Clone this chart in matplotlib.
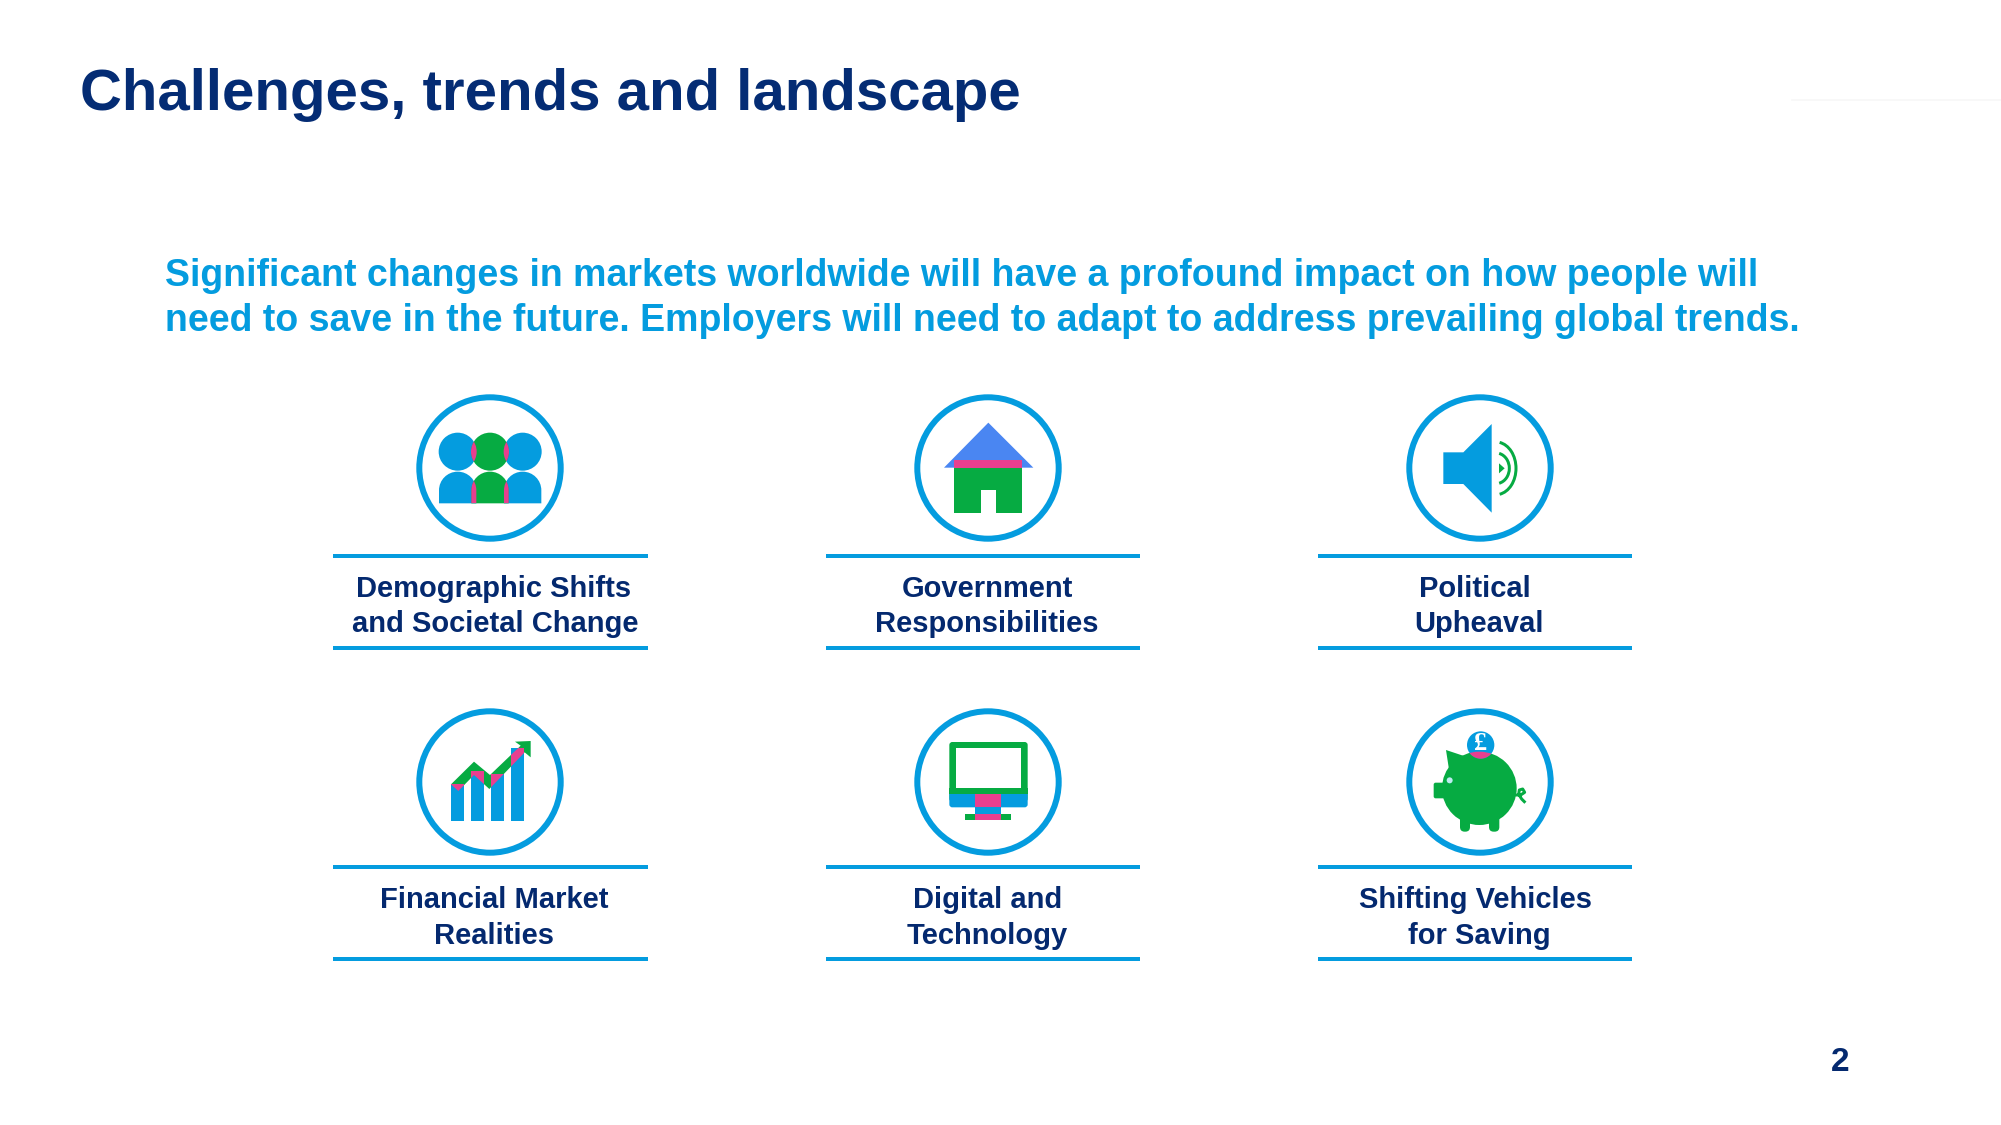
import matplotlib
matplotlib.use("Agg")
import matplotlib.pyplot as plt
from matplotlib.patches import Circle, Polygon, Rectangle, Ellipse, FancyBboxPatch, PathPatch, Arc
from matplotlib.path import Path

NAVY = "#04296F"
TITLE_NAVY = "#042C74"
BLUE = "#049CDF"
GREEN = "#06AB42"
PINK = "#E83F8F"
ROOF = "#4A86F2"

title = "Challenges, trends and landscape"
subtitle = ["Significant changes in markets worldwide will have a profound impact on how people will",
            "need to save in the future. Employers will need to adapt to address prevailing global trends."]
labels = [["Demographic Shifts", "and Societal Change"], ["Government", "Responsibilities"], ["Political", "Upheaval"],
          ["Financial Market", "Realities"], ["Digital and", "Technology"], ["Shifting Vehicles", "for Saving"]]
label_x = [[494, 495], [987, 986.5], [1475, 1479], [494.5, 494.5], [987.5, 987.5], [1475.5, 1479.5]]
label_y = [[597, 632], [597, 632], [597, 632], [908, 943.5], [908, 943.5], [908, 943.5]]
rule_x = [(333, 647.5), (825.5, 1140), (1318, 1632), (333, 647.5), (825.5, 1140), (1318, 1632)]
rule_y = [(556, 648), (556, 648), (556, 648), (867.3, 959), (867.3, 959), (867.3, 959)]
centers = [(490, 468), (988, 468), (1480, 468), (490, 782), (988, 782), (1480, 782)]
page = "2"

fig = plt.figure(figsize=(20.01, 11.25), dpi=100, facecolor="white")
ax = fig.add_axes([0, 0, 1, 1])
ax.set_xlim(0, 2001)
ax.set_ylim(1125, 0)
ax.axis("off")
PX = 0.72
FONT = "Liberation Sans"

ax.text(79.5, 109.5, title, fontsize=41.87, fontweight="bold", color=TITLE_NAVY, family=FONT, va="baseline")
ax.text(165, 286, subtitle[0], fontsize=27, fontweight="bold", color=BLUE, family=FONT, va="baseline")
ax.text(165, 331, subtitle[1], fontsize=27, fontweight="bold", color=BLUE, family=FONT, va="baseline")
ax.text(1840.5, 1071, page, fontsize=24, fontweight="bold", color=NAVY, family=FONT, ha="center", va="baseline")
ax.plot([1792, 2001], [99.5, 99.5], color="#F6F6F6", lw=1.5 * PX)

for lab, lx, ly, rx, ry, c in zip(labels, label_x, label_y, rule_x, rule_y, centers):
    for s, x, y in zip(lab, lx, ly):
        ax.text(x, y, s, fontsize=21, fontweight="bold", color=NAVY, family=FONT, ha="center", va="baseline")
    for y in ry:
        ax.add_patch(Rectangle((rx[0], y - 2), rx[1] - rx[0], 4, fc=BLUE, ec="none"))
    ax.add_patch(Circle(c, 70.7, fc="white", ec=BLUE, lw=6 * PX))


def mapper(ox, oy):
    return lambda x, y: (ox + x / 3, oy + y / 3)


def poly(pts, m, color, z=3, clip=None):
    p = Polygon([m(*q) for q in pts], closed=True, fc=color, ec="none", zorder=z)
    ax.add_patch(p)
    if clip is not None:
        p.set_clip_path(clip)
    return p


def rect(x0, y0, x1, y1, m, color, z=3):
    a = m(x0, y0)
    return ax.add_patch(Rectangle(a, (x1 - x0) / 3, (y1 - y0) / 3, fc=color, ec="none", zorder=z))


def circ(x, y, r, m, color, z=3):
    return ax.add_patch(Circle(m(x, y), r / 3, fc=color, ec="none", zorder=z))


def round_rect(x0, y0, x1, y1, rad, m, color, z=3):
    a = m(x0, y0)
    return ax.add_patch(FancyBboxPatch((a[0] + rad / 3, a[1] + rad / 3), (x1 - x0 - 2 * rad) / 3, (y1 - y0 - 2 * rad) / 3,
                                       boxstyle=f"round,pad={rad / 3},rounding_size={rad / 3}", fc=color, ec="none", zorder=z))


# Icon 1: people
m = mapper(400, 380)


def body(cx, color, z):
    w = 56
    pts = [(cx - w, 370), (cx - w, 331), (cx - w, 300), (cx - 31, 275), (cx, 275),
           (cx + 31, 275), (cx + w, 300), (cx + w, 331), (cx + w, 370), (cx - w, 370)]
    codes = [Path.MOVETO, Path.LINETO, Path.CURVE4, Path.CURVE4, Path.CURVE4, Path.CURVE4, Path.CURVE4, Path.CURVE4,
             Path.LINETO, Path.CLOSEPOLY]
    pt = PathPatch(Path([m(*q) for q in pts], codes), fc=color, ec="none", zorder=z)
    return ax.add_patch(pt)


for cx in (173, 368):
    circ(cx, 215, 57, m, BLUE)
    body(cx, BLUE, 3)
gc = circ(270, 215, 57, m, GREEN, 4)
gb = body(270, GREEN, 4)
for cx in (173, 368):
    circ(cx, 215, 57, m, PINK, 5).set_clip_path(gc)
    body(cx, PINK, 5).set_clip_path(gb)

# Icon 2: house
m = mapper(900, 380)
poly([(265, 128), (400, 263), (132, 263)], m, ROOF)
rect(163, 240, 367, 263, m, PINK, 4)
rect(163, 263, 367, 398, m, GREEN, 4)
rect(243, 330, 288, 398, m, "white", 5)

# Icon 3: speaker
m = mapper(1390, 380)
poly([(160, 217), (220, 217), (305, 132), (305, 398), (220, 312), (160, 312)], m, BLUE)
poly([(327, 250), (344, 265), (327, 280)], m, GREEN)
c3 = m(318, 265)
ax.add_patch(Arc(c3, 2 * 40 / 3, 2 * 46 / 3, theta1=-78, theta2=78, ec=GREEN, lw=3 * PX, zorder=3))
ax.add_patch(Arc(c3, 2 * 60 / 3, 2 * 79 / 3, theta1=-82, theta2=82, ec=GREEN, lw=3 * PX, zorder=3))

# Icon 4: rising chart
m = mapper(400, 695)
arrow = [(153, 268), (222, 200), (270, 240), (362, 152), (345, 140), (392, 138), (392, 187), (374, 172),
         (268, 282), (222, 240), (175, 288)]
poly(arrow, m, GREEN)
for x0, top in ((153, 268), (212, 228), (272, 238), (332, 158)):
    bar = rect(x0, top, x0 + 40, 378, m, BLUE, 4)
    poly(arrow, m, PINK, 5, clip=bar)

# Icon 5: monitor
m = mapper(900, 695)
round_rect(148, 141, 383, 320, 9, m, GREEN)
rect(167, 160, 364, 278, m, "white", 4)
round_rect(148, 280, 383, 337, 9, m, BLUE, 4)
rect(148, 278, 383, 297, m, GREEN, 5)
rect(226, 297, 304, 337, m, PINK, 5)
rect(226, 337, 304, 356, m, BLUE, 5)
rect(196, 356, 334, 376, m, GREEN, 5)
rect(226, 356, 304, 376, m, PINK, 6)

# Icon 6: piggy bank
m = mapper(1390, 695)
bc = m(268, 280)
pig = ax.add_patch(Ellipse(bc, 2 * 112 / 3, 2 * 110 / 3, fc=GREEN, ec="none", zorder=3))
poly([(168, 165), (228, 185), (178, 230)], m, GREEN)
round_rect(131, 263, 180, 310, 6, m, GREEN)
round_rect(210, 360, 240, 410, 14, m, GREEN)
round_rect(297, 360, 328, 410, 14, m, GREEN)
circ(179, 256, 9, m, "#BEEBF0", 5)
circ(272, 150, 41, m, BLUE, 4)
circ(272, 150, 41, m, PINK, 5).set_clip_path(pig)
cx, cy = m(272, 147)
ax.text(cx, cy, "£", fontsize=19, fontweight="bold", color="white", family="Liberation Serif", ha="center", va="center", zorder=6)
tail = [(378, 300), (392, 300), (404, 292), (398, 282), (388, 285), (386, 298), (395, 312), (403, 320)]
ax.plot(*zip(*[m(*q) for q in tail]), color=GREEN, lw=3 * PX, zorder=3)

fig.savefig("out.png", dpi=100, facecolor="white")
